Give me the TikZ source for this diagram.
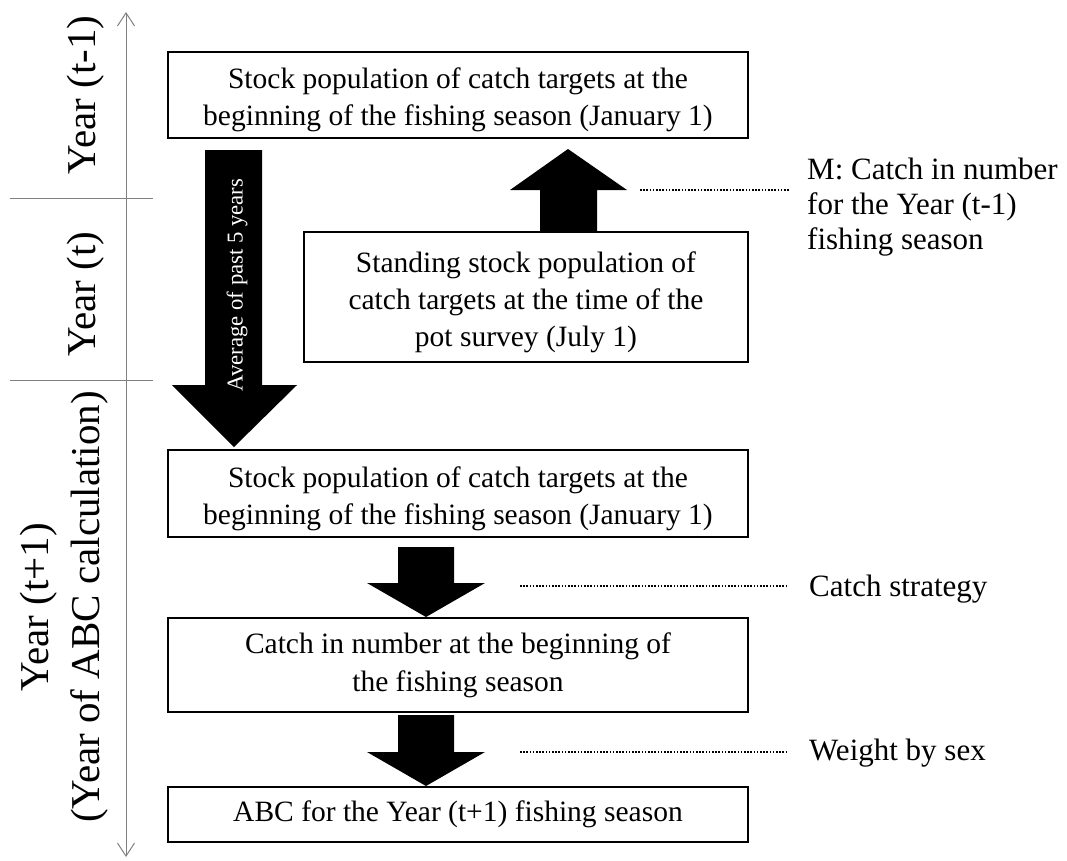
\documentclass[tikz,border=0pt]{standalone}
\usepackage{fontspec}
\setmainfont{Liberation Serif}
\usetikzlibrary{arrows.meta}
\newcommand\lowertext{\rule{0pt}{31pt}}
\tikzset{
  box/.style={draw=black, line width=1.2pt, align=center, inner sep=0pt,
    font=\fontsize{29.5}{37}\selectfont},
  blk/.style={fill=black, draw=none},
  lead/.style={line width=1.4pt, dash pattern=on 1.6pt off 1.6pt},
  side/.style={anchor=west, align=left, inner sep=0pt, font=\fontsize{31}{35}\selectfont},
  yearlab/.style={rotate=90, align=center, inner sep=0pt, font=\fontsize{41}{51}\selectfont},
  axisline/.style={draw=gray, line width=1pt},
}
\begin{document}
\begin{tikzpicture}[x=1pt,y=-1pt]
\useasboundingbox (0,0) rectangle (1067,860);

% time axis
\coordinate (axtop) at (126,12);
\coordinate (axbot) at (126,857);
\draw[axisline, {Straight Barb[length=13pt,width=17pt,line width=1pt]}-{Straight Barb[length=13pt,width=17pt,line width=1pt]}] (axbot) -- (axtop);
\coordinate (d1a) at (10,198); \coordinate (d1b) at (153,198);
\coordinate (d2a) at (10,380); \coordinate (d2b) at (153,380);
\draw[axisline] (d1a) -- (d1b);
\draw[axisline] (d2a) -- (d2b);

% year labels
\node[yearlab] (y1) at (86,95) {Year (t-1)};
\node[yearlab] (y2) at (86,294) {Year (t)};
\node[yearlab] (y3) at (64,607) {Year (t+1)\\(Year of ABC calculation)};

% boxes
\node[box, minimum width=580pt, minimum height=86pt] (b1) at (458,95)
  {\lowertext Stock population of catch targets at the\\beginning of the fishing season (January 1)};
\node[box, minimum width=444pt, minimum height=130pt] (b2) at (526,297)
  {\lowertext Standing stock population of\\catch targets at the time of the\\pot survey (July 1)};
\node[box, minimum width=580pt, minimum height=87pt] (b3) at (458,493.5)
  {\lowertext Stock population of catch targets at the\\beginning of the fishing season (January 1)};
\node[box, minimum width=580pt, minimum height=94pt, font=\fontsize{29.5}{38}\selectfont] (b4) at (458,665)
  {Catch in number at the beginning of\\the fishing season};
\node[box, minimum width=580pt, minimum height=55pt] (b5) at (458,814.5)
  {ABC for the Year (t+1) fishing season};

% block arrows
\fill[blk] (205,150) -- (262,150) -- (262,385) -- (297,385) -- (234,447)
  -- (172,385) -- (205,385) -- cycle;
\node[rotate=90, text=white, inner sep=0pt, font=\fontsize{22.7}{26}\selectfont] (avg) at (237,285) {Average of past 5 years};

\fill[blk] (540,232) -- (597,232) -- (597,190) -- (627,190) -- (568,149)
  -- (510,190) -- (540,190) -- cycle;

\fill[blk] (398,547) -- (454,547) -- (454,583) -- (485,583) -- (426,617)
  -- (367,583) -- (398,583) -- cycle;

\fill[blk] (398,715) -- (454,715) -- (454,752) -- (485,752) -- (426,786)
  -- (367,752) -- (398,752) -- cycle;

% side labels and leaders
\node[side] (m) at (807,207) {M: Catch in number\\for the Year (t-1)\\fishing season};
\node[side] (cs) at (809,589) {Catch strategy};
\node[side] (ws) at (809,753) {Weight by sex};

\coordinate (l1a) at (640,190); \coordinate (l1b) at (790,190);
\coordinate (l2a) at (520,586); \coordinate (l2b) at (788,586);
\coordinate (l3a) at (520,752); \coordinate (l3b) at (788,752);
\draw[lead] (l1a) -- (l1b);
\draw[lead] (l2a) -- (l2b);
\draw[lead] (l3a) -- (l3b);
\end{tikzpicture}
\end{document}
